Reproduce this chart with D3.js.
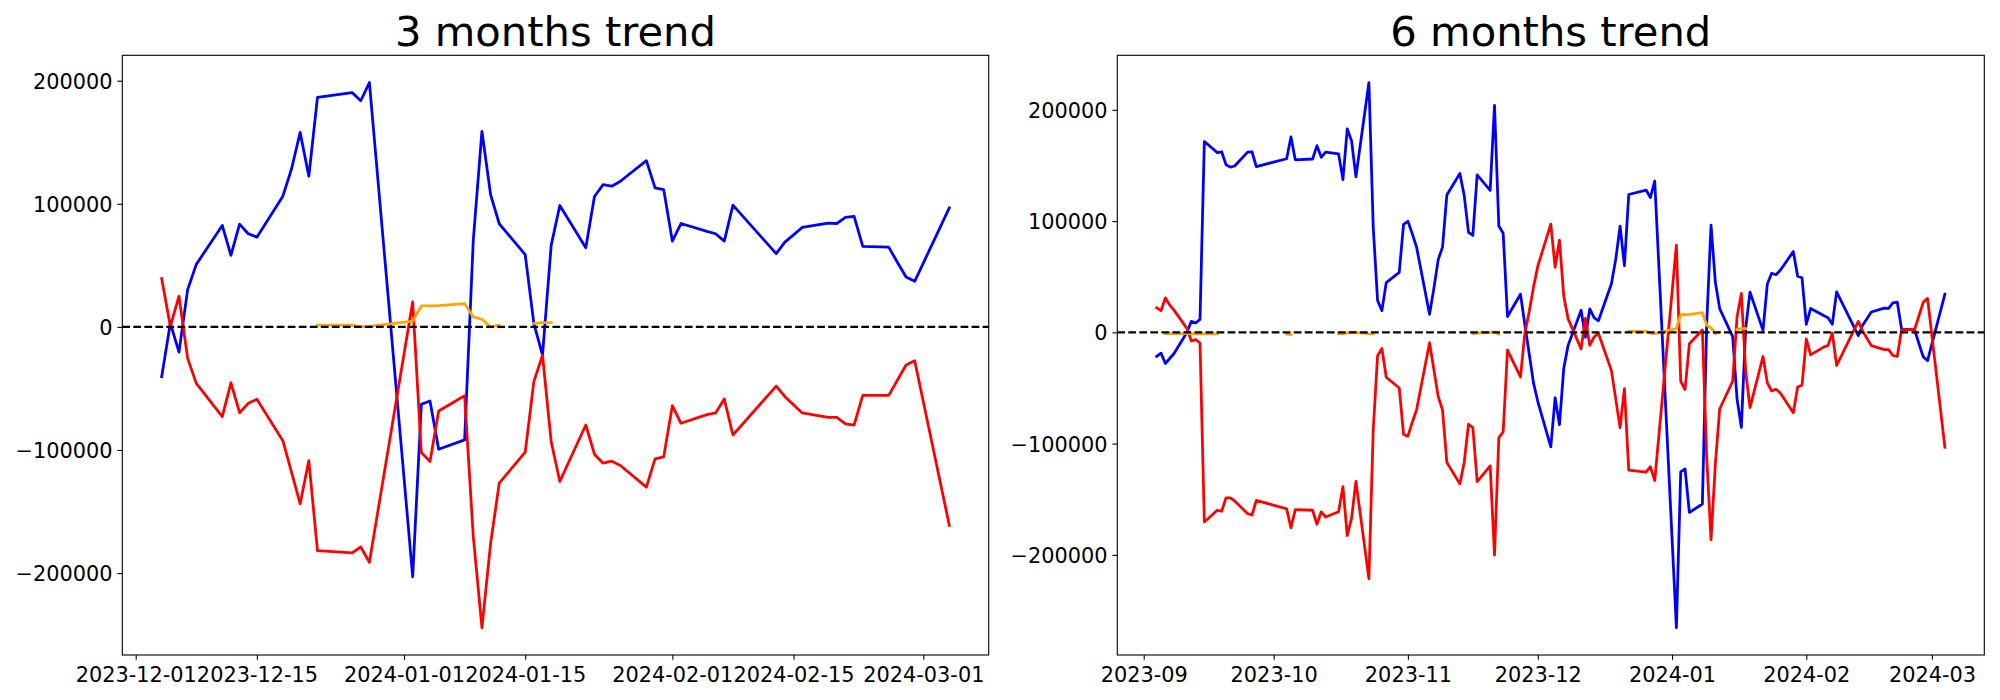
<!DOCTYPE html>
<html><head><meta charset="utf-8">
<script src="https://cdn.jsdelivr.net/npm/d3@7"></script>
<style>body{margin:0;background:#fff} text{font-family:"DejaVu Sans",sans-serif}</style>
</head><body><svg id="chart" width="2000" height="700"></svg>
<script>
// ---------- 3 months data ----------
const dates3 = ["2023-12-04","2023-12-05","2023-12-06","2023-12-07","2023-12-08","2023-12-11","2023-12-12","2023-12-13","2023-12-14","2023-12-15","2023-12-18","2023-12-19","2023-12-20","2023-12-21","2023-12-22","2023-12-26","2023-12-27","2023-12-28",
"2024-01-02","2024-01-03","2024-01-04","2024-01-05","2024-01-08","2024-01-09","2024-01-10","2024-01-11","2024-01-12","2024-01-15","2024-01-16","2024-01-17","2024-01-18","2024-01-19","2024-01-22","2024-01-23","2024-01-24","2024-01-25","2024-01-26","2024-01-29","2024-01-30","2024-01-31",
"2024-02-01","2024-02-02","2024-02-05","2024-02-06","2024-02-07","2024-02-08","2024-02-13","2024-02-14","2024-02-15","2024-02-16","2024-02-19","2024-02-20","2024-02-21","2024-02-22","2024-02-23","2024-02-26","2024-02-27","2024-02-28","2024-02-29","2024-03-04"];
const blue3 = [-40500,3000,-20500,30300,50800,82400,58100,83500,75700,72900,106200,128300,158000,122400,186400,190400,183700,198500,
-203000,-62900,-60200,-99400,-91800,70300,158900,107500,83800,58700,2700,-22900,66200,98600,64300,105900,115600,114300,118300,135100,113000,111600,
69700,84000,77600,75700,69700,98900,59500,68900,74800,80800,84300,84000,88900,89700,65400,64800,52500,40500,37000,96700];
const red3 = [39200,500,24900,-25600,-45900,-72900,-45400,-69700,-62100,-58800,-92400,-118000,-143700,-108600,-181800,-183600,-178800,-191200,
20300,-102100,-109400,-68300,-55900,-170200,-244400,-176100,-126900,-101800,-44500,-23000,-93200,-125600,-79700,-103400,-110700,-109100,-112600,-130200,-107200,-105600,
-64000,-78300,-71300,-69900,-58600,-87800,-48100,-56700,-63300,-69900,-73500,-73500,-78800,-79700,-55600,-55600,-43300,-31000,-27500,-161200];
const orange3 = [null,null,null,null,null,null,null,null,null,null,null,null,null,null,1400,1500,300,500,
4600,17000,17000,17200,19000,8100,6200,0,1400,null,2700,3500,3500,null,null,null,null,null,null,null,null,null,
null,null,null,null,null,null,null,null,null,null,null,null,null,null,null,null,null,null,null,null];

// ---------- 6 months data ----------
const dates6 = ["2023-09-04","2023-09-05","2023-09-06","2023-09-07","2023-09-08","2023-09-11","2023-09-12","2023-09-13","2023-09-14","2023-09-15","2023-09-18","2023-09-19","2023-09-20","2023-09-21","2023-09-22","2023-09-25","2023-09-26","2023-09-27",
"2023-10-04","2023-10-05","2023-10-06","2023-10-10","2023-10-11","2023-10-12","2023-10-13","2023-10-16","2023-10-17","2023-10-18","2023-10-19","2023-10-20","2023-10-23","2023-10-24","2023-10-25","2023-10-26","2023-10-27","2023-10-30","2023-10-31",
"2023-11-01","2023-11-02","2023-11-03","2023-11-06","2023-11-07","2023-11-08","2023-11-09","2023-11-10","2023-11-13","2023-11-14","2023-11-15","2023-11-16","2023-11-17","2023-11-20","2023-11-21","2023-11-22","2023-11-23","2023-11-24","2023-11-27","2023-11-28","2023-11-29","2023-11-30",
"2023-12-01","2023-12-04","2023-12-05","2023-12-06","2023-12-07","2023-12-08","2023-12-11","2023-12-12","2023-12-13","2023-12-14","2023-12-15","2023-12-18","2023-12-19","2023-12-20","2023-12-21","2023-12-22","2023-12-26","2023-12-27","2023-12-28",
"2024-01-02","2024-01-03","2024-01-04","2024-01-05","2024-01-08","2024-01-09","2024-01-10","2024-01-11","2024-01-12","2024-01-15","2024-01-16","2024-01-17","2024-01-18","2024-01-19","2024-01-22","2024-01-23","2024-01-24","2024-01-25","2024-01-26","2024-01-29","2024-01-30","2024-01-31",
"2024-02-01","2024-02-02","2024-02-05","2024-02-06","2024-02-07","2024-02-08","2024-02-13","2024-02-14","2024-02-15","2024-02-16","2024-02-19","2024-02-20","2024-02-21","2024-02-22","2024-02-23","2024-02-26","2024-02-27","2024-02-28","2024-02-29","2024-03-04"];
const blue6 = [-21500,-18700,-28000,-23500,-19000,0,9900,8400,11700,171500,161500,162300,150700,148500,149500,162000,162300,149000,
156000,175600,155100,155800,167800,157300,162000,160400,137300,182800,172000,139800,224500,94400,28600,19500,44700,53900,97000,
99800,88700,76700,16200,39500,65200,76700,123500,142800,123100,89900,87100,141600,127600,204000,95500,89100,14200,34200,7300,-19000,-45400,
-62200,-103000,-58800,-83000,-32200,-11700,19900,-4400,21000,13200,10400,43700,65800,95500,59900,123900,127900,121200,136000,
-265500,-125400,-122700,-161900,-154300,7800,96400,45000,21300,-3800,-59800,-85400,3700,36100,1800,43400,53100,51800,55800,72600,50500,49100,
7200,21500,15100,13200,7200,36400,-3000,6400,12300,18300,21800,21500,26400,27200,2900,2300,-10000,-22000,-25500,34200];
const red6 = [22000,19500,31000,24500,20000,3300,-7800,-6600,-9600,-170400,-159900,-160800,-148800,-148800,-151500,-163000,-164200,-151100,
-158600,-175800,-159300,-159900,-172500,-161300,-166000,-161300,-138700,-182600,-167000,-134000,-221400,-87300,-21000,-14500,-40400,-50000,-91800,
-93300,-81000,-69800,-9300,-33500,-57700,-69800,-117000,-136200,-117000,-82600,-85600,-134200,-120000,-200200,-94600,-89600,-15900,-40100,-1000,18200,40600,
59500,97200,58500,82900,32400,12100,-14900,12600,-11700,-4100,-800,-34400,-60000,-85700,-50600,-123800,-125600,-120800,-133200,
78300,-44100,-51400,-10300,2100,-112200,-186400,-118100,-68900,-43800,13500,35000,-35200,-67600,-21700,-45400,-52700,-51100,-54600,-72200,-49200,-47600,
-6000,-20300,-13300,-11900,-600,-29800,9900,1300,-5300,-11900,-15500,-15500,-20800,-21700,2400,2400,14700,27000,30500,-103200];
const orange6 = [null,null,-1200,-1200,-1200,-1200,-1200,-1300,-1300,-1300,-1300,null,null,null,null,null,null,null,
-1500,-2000,null,null,null,null,null,-1300,-1300,-500,200,-300,-1200,-1300,null,null,null,null,null,
null,null,null,null,null,null,null,null,null,null,null,-1200,-800,0,300,-1700,null,null,null,null,null,null,
null,null,null,null,null,null,null,null,null,null,null,null,null,null,null,900,900,-600,-1200,
3300,15900,15900,16200,17700,6300,4200,-1200,300,null,2400,3300,3300,null,null,null,null,null,null,null,null,null,
null,null,null,null,null,null,null,null,null,null,null,null,null,null,null,null,null,null,null,null];

// ---------- tick labels ----------
const xTicks3 = ["2023-12-01","2023-12-15","2024-01-01","2024-01-15","2024-02-01","2024-02-15","2024-03-01"];
const xTicks6 = ["2023-09-01","2023-10-01","2023-11-01","2023-12-01","2024-01-01","2024-02-01","2024-03-01"];
const yTicks = [-200000,-100000,0,100000,200000];
const titles = ["3 months trend","6 months trend"];

const parse = d3.utcParse("%Y-%m-%d");
const svg = d3.select("#chart");
const TICK_FS = 20.83;

function panel(box, title, dates, series, xticks, xfmt) {
  const ds = dates.map(parse);
  const t0 = ds[0].getTime(), t1 = ds[ds.length-1].getTime(), span = t1 - t0;
  const x = d3.scaleUtc().domain([new Date(t0 - 0.05*span), new Date(t1 + 0.05*span)]).range([box.x, box.x + box.w]);
  const all = series.flatMap(s => s.values.filter(v => v != null));
  const lo = d3.min(all), hi = d3.max(all), r = hi - lo;
  const y = d3.scaleLinear().domain([lo - 0.05*r, hi + 0.05*r]).range([box.y + box.h, box.y]);

  const g = svg.append("g");
  series.forEach(s => {
    const pts = ds.map((d, i) => ({d, v: s.values[i]}));
    const line = d3.line().defined(p => p.v != null).x(p => x(p.d)).y(p => y(p.v));
    g.append("path").datum(pts).attr("d", line).attr("fill", "none")
      .attr("stroke", s.color).attr("stroke-width", 2.78)
      .attr("stroke-linejoin", "round").attr("stroke-linecap", "square");
  });
  g.append("line").attr("x1", box.x).attr("x2", box.x + box.w)
    .attr("y1", y(0)).attr("y2", y(0)).attr("stroke", "black")
    .attr("stroke-width", 2.08).attr("stroke-dasharray", "7.7,3.33");
  g.append("rect").attr("x", box.x).attr("y", box.y).attr("width", box.w).attr("height", box.h)
    .attr("fill", "none").attr("stroke", "black").attr("stroke-width", 1.1);
  const xa = g.append("g").attr("transform", `translate(0,${box.y + box.h})`)
    .call(d3.axisBottom(x).tickValues(xticks.map(parse)).tickFormat(d3.utcFormat(xfmt)).tickSizeOuter(0).tickSize(4.86).tickPadding(4.86));
  xa.select(".domain").remove();
  xa.selectAll("line").attr("stroke-width", 1.1);
  xa.selectAll("text").attr("y", 26.5).attr("dy", null).attr("font-size", TICK_FS).attr("fill", "black")
    .attr("font-family", "DejaVu Sans");
  const ya = g.append("g").attr("transform", `translate(${box.x},0)`)
    .call(d3.axisLeft(y).tickValues(yTicks).tickFormat(d3.format("d")).tickSizeOuter(0).tickSize(4.86).tickPadding(4.86));
  ya.select(".domain").remove();
  ya.selectAll("line").attr("stroke-width", 1.1);
  ya.selectAll("text").attr("font-size", TICK_FS).attr("dy", "0.36em").attr("fill", "black")
    .attr("font-family", "DejaVu Sans");
  g.append("text").attr("x", box.x + box.w/2).attr("y", 46).attr("text-anchor", "middle")
    .attr("font-size", 41.67).attr("fill", "black").text(title);
}

panel({x:122.3, y:55.3, w:866.4, h:599.7}, titles[0], dates3,
  [{values: blue3, color: "blue"}, {values: red3, color: "red"}, {values: orange3, color: "orange"}], xTicks3, "%Y-%m-%d");
panel({x:1117.3, y:55.3, w:867, h:599.7}, titles[1], dates6,
  [{values: blue6, color: "blue"}, {values: red6, color: "red"}, {values: orange6, color: "orange"}], xTicks6, "%Y-%m");
</script></body></html>
